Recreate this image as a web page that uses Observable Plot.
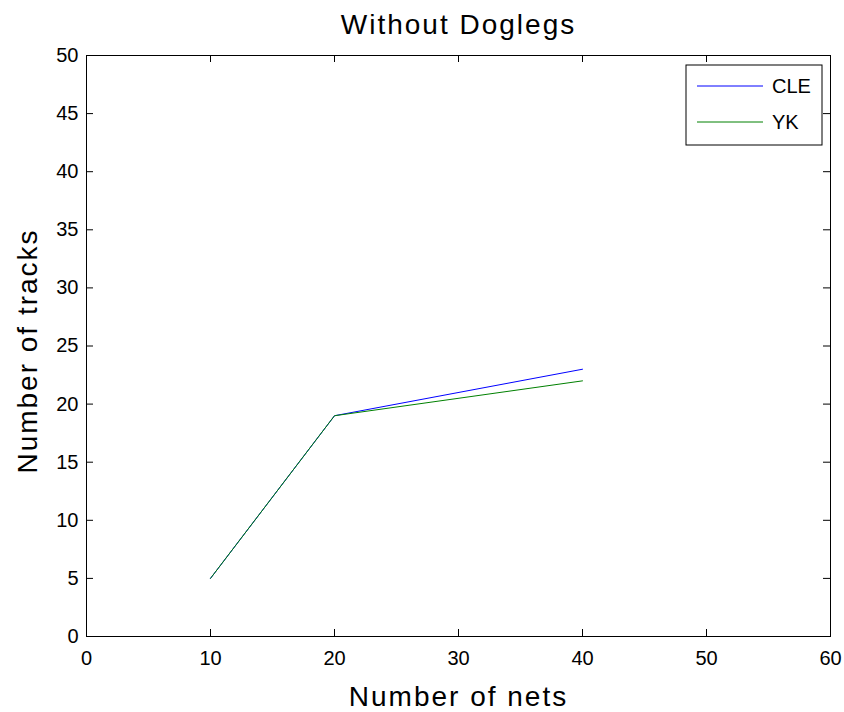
<!DOCTYPE html>
<html>
<head>
<meta charset="utf-8">
<script src="https://cdn.jsdelivr.net/npm/d3@7"></script>
<script src="https://cdn.jsdelivr.net/npm/@observablehq/plot@0.6"></script>
<style>
  html, body { margin: 0; padding: 0; background: white; }
</style>
</head>
<body>
<div id="chart"></div>
<script>
const xTicks = [0, 10, 20, 30, 40, 50, 60];
const yTicks = [0, 5, 10, 15, 20, 25, 30, 35, 40, 45, 50];
const nets = [10, 20, 40];
const cleTracks = [5, 19, 23];
const ykTracks = [5, 19, 22];
const seriesNames = ["CLE", "YK"];
const seriesColors = ["#0000ff", "#008000"];
const titleText = "Without Doglegs";
const xLabel = "Number of nets";
const yLabel = "Number of tracks";

const W = 844, H = 712, mL = 86, mR = 14, mT = 55, mB = 76;
const fw = W - mL - mR, fh = H - mT - mB, tk = 7;
const font = "'Liberation Sans', Arial, Helvetica, sans-serif";

const svg = Plot.plot({
  width: W, height: H,
  marginLeft: mL, marginRight: mR, marginTop: mT, marginBottom: mB,
  style: { fontFamily: font, background: "white", color: "black" },
  x: { domain: [0, 60] },
  y: { domain: [0, 50] },
  marks: [
    Plot.axisX(xTicks, { tickSize: 0, tickPadding: 14, fontSize: 20, label: null, tickFormat: d => String(d) }),
    Plot.axisY(yTicks, { tickSize: 0, tickPadding: 8, fontSize: 20, label: null, tickFormat: d => String(d) }),
    Plot.ruleX(xTicks, { x: d => d, insetTop: fh - tk, stroke: "black" }),
    Plot.ruleX(xTicks, { x: d => d, insetBottom: fh - tk, stroke: "black" }),
    Plot.ruleY(yTicks, { y: d => d, insetRight: fw - tk, stroke: "black" }),
    Plot.ruleY(yTicks, { y: d => d, insetLeft: fw - tk, stroke: "black" }),
    Plot.line(nets, { x: nets, y: cleTracks, stroke: seriesColors[0], strokeWidth: 1 }),
    Plot.line(nets, { x: nets, y: ykTracks, stroke: seriesColors[1], strokeWidth: 1 }),
    Plot.frame({ stroke: "black", strokeWidth: 1 }),
    Plot.text([titleText], { text: d => d, frameAnchor: "top", textAnchor: "middle", lineAnchor: "bottom", dy: -22, fontSize: 28 }),
    Plot.text([xLabel], { text: d => d, frameAnchor: "bottom", textAnchor: "middle", lineAnchor: "bottom", dy: 69, fontSize: 28 }),
    Plot.text([yLabel], { text: d => d, frameAnchor: "left", textAnchor: "middle", lineAnchor: "bottom", rotate: -90, dx: -50, dy: 5, fontSize: 28 })
  ]
});

const s = d3.select(svg);
s.selectAll("text").filter(function () {
  const t = this.textContent;
  return t === titleText || t === xLabel || t === yLabel;
}).style("letter-spacing", "2px");

// Legend
const lg = s.append("g");
const lx = 686, ly = 65, lw = 136, lh = 80;
lg.append("rect").attr("x", lx).attr("y", ly).attr("width", lw).attr("height", lh)
  .attr("fill", "white").attr("stroke", "black").attr("stroke-width", 1);
seriesNames.forEach((name, i) => {
  const yy = ly + 21 + i * 36;
  lg.append("line").attr("x1", lx + 11).attr("x2", lx + 77).attr("y1", yy).attr("y2", yy)
    .attr("stroke", seriesColors[i]).attr("stroke-width", 1);
  lg.append("text").attr("x", lx + 86).attr("y", yy).attr("dy", "0.35em")
    .attr("text-anchor", "start")
    .attr("font-family", font).attr("font-size", 20).attr("fill", "black").text(name);
});

document.getElementById("chart").appendChild(svg);
</script>
</body>
</html>
